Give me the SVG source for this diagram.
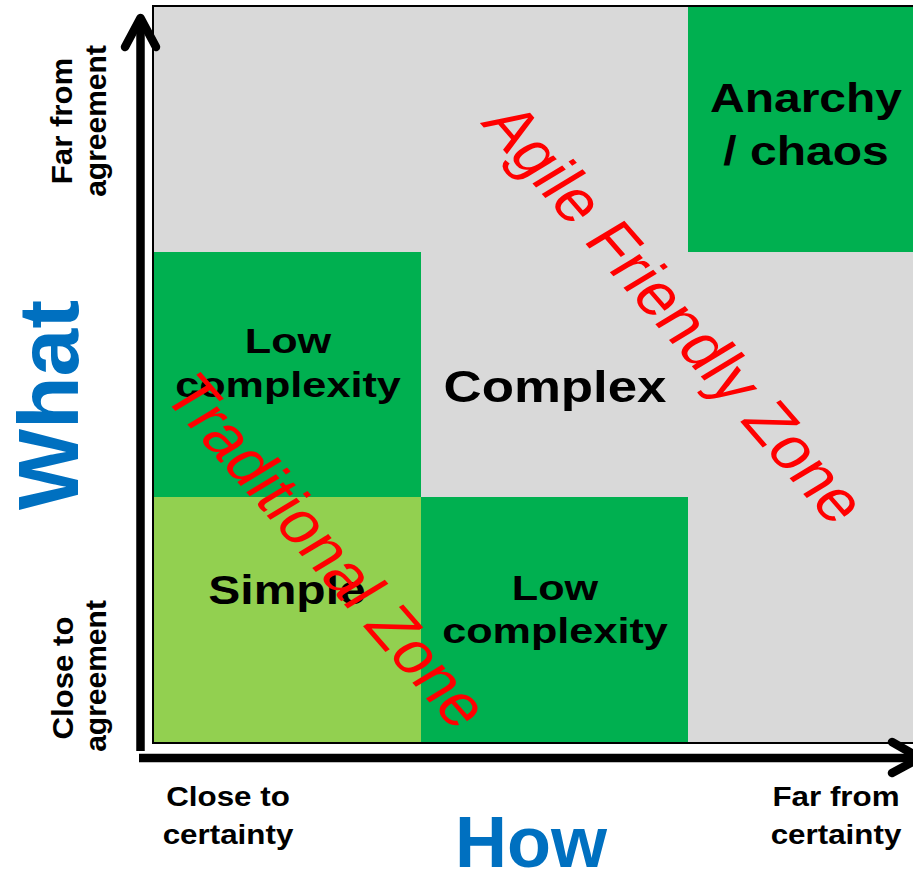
<svg xmlns="http://www.w3.org/2000/svg" width="913" height="873" viewBox="0 0 913 873">
<style>
text{font-family:"Liberation Sans",Arial,sans-serif;text-anchor:middle}
.b{font-weight:bold;fill:#000}
.blue{font-weight:bold;fill:#0070C0}
.red{fill:#FF0000;font-size:58px}
.dk{fill:#00B050}
.lt{fill:#92D050}
.ax{stroke:#000;stroke-width:8.5;fill:none}
</style>
<rect x="0" y="0" width="913" height="873" fill="#fff"/>
<g id="grid">
<rect x="153" y="6" width="770" height="737" fill="#D9D9D9"/>
</g>
<g id="anarchy">
<rect class="dk" x="688" y="7" width="225" height="245"/>
<text class="b" font-size="40" transform="translate(806,112) scale(1.2,1)">Anarchy</text>
<text class="b" font-size="40" transform="translate(806,165) scale(1.2,1)">/ chaos</text>
</g>
<g id="low-complexity-what">
<rect class="dk" x="154" y="252" width="267" height="245"/>
<text class="b" font-size="36" transform="translate(288,353) scale(1.2,1)">Low</text>
<text class="b" font-size="36" transform="translate(288,397) scale(1.2,1)">complexity</text>
</g>
<g id="complex">
<text class="b" font-size="44" transform="translate(555,402) scale(1.2,1)">Complex</text>
</g>
<g id="simple">
<rect class="lt" x="154" y="497" width="267" height="245"/>
<text class="b" font-size="40" transform="translate(287,604) scale(1.2,1)">Simple</text>
</g>
<g id="low-complexity-how">
<rect class="dk" x="421" y="497" width="267" height="245"/>
<text class="b" font-size="36" transform="translate(555,600) scale(1.2,1)">Low</text>
<text class="b" font-size="36" transform="translate(555,643) scale(1.2,1)">complexity</text>
</g>
<g id="grid-border">
<rect x="153" y="6" width="770" height="737" fill="none" stroke="#000" stroke-width="2"/>
</g>
<g id="zones">
<text class="red" transform="translate(656,325) scale(1.2,1) rotate(54)">Agile Friendly Zone</text>
<text class="red" transform="translate(308,563) scale(1.2,1) rotate(54)">Traditional Zone</text>
</g>
<g id="connectors">
<line class="ax" x1="140.5" y1="751" x2="140.5" y2="20"/>
<polyline class="ax" points="125,47 140.5,18 156,47" stroke-linecap="round" stroke-linejoin="round"/>
<line class="ax" x1="139" y1="758" x2="918" y2="758"/>
<polyline class="ax" points="892,742 920,758 892,773" stroke-linecap="round" stroke-linejoin="round"/>
</g>
<g id="axis-labels">
<text class="blue" font-size="86" transform="translate(78,405) rotate(-90)">What</text>
<text class="blue" font-size="72" x="531" y="867">How</text>
<text class="b" font-size="30" transform="translate(72,121) rotate(-90) scale(1.04,1)">Far from</text>
<text class="b" font-size="30" transform="translate(106,121) rotate(-90) scale(1.0,1)">agreement</text>
<text class="b" font-size="30" transform="translate(73,678) rotate(-90) scale(1.04,1)">Close to</text>
<text class="b" font-size="30" transform="translate(106,676) rotate(-90) scale(1.0,1)">agreement</text>
<text class="b" font-size="28" transform="translate(228,806) scale(1.12,1)">Close to</text>
<text class="b" font-size="28" transform="translate(228,844) scale(1.12,1)">certainty</text>
<text class="b" font-size="28" transform="translate(836,806) scale(1.12,1)">Far from</text>
<text class="b" font-size="28" transform="translate(836,844) scale(1.12,1)">certainty</text>
</g>
</svg>
